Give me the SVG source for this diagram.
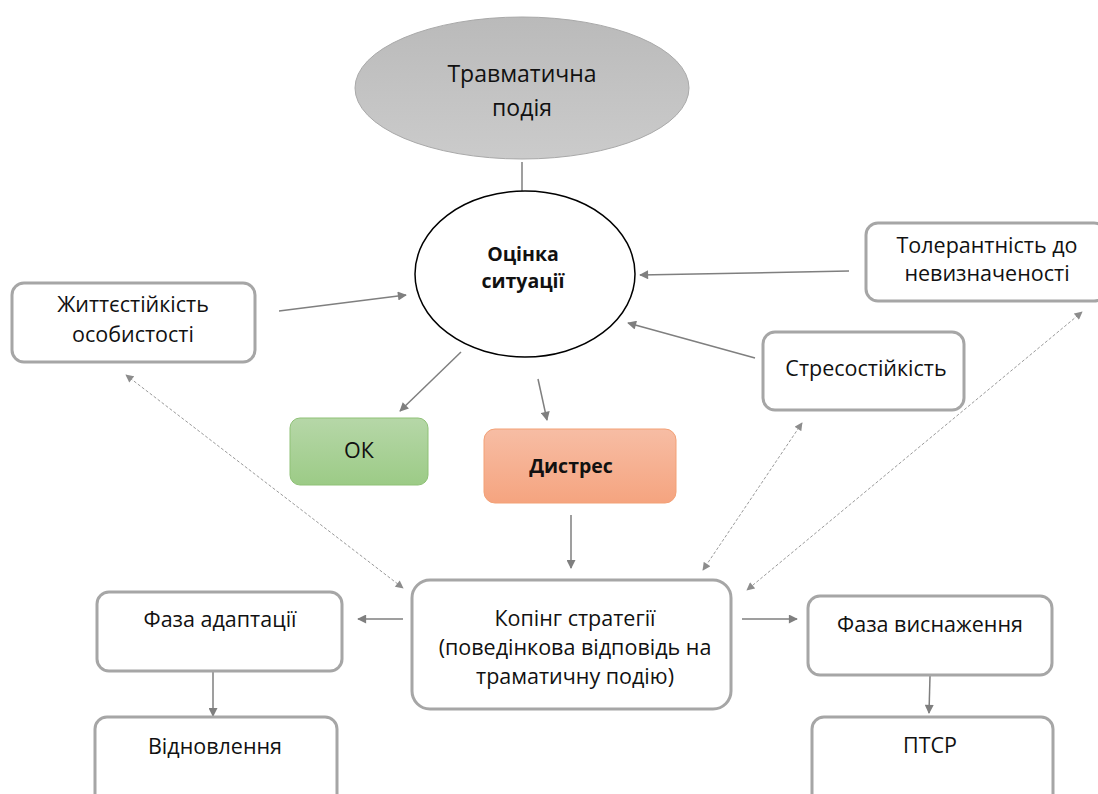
<svg xmlns="http://www.w3.org/2000/svg" width="1098" height="794" viewBox="0 0 1098 794">
<defs>
<linearGradient id="gGray" x1="0" y1="0" x2="0" y2="1"><stop offset="0" stop-color="#bababa"/><stop offset="1" stop-color="#cbcbcb"/></linearGradient>
<linearGradient id="gGreen" x1="0" y1="0" x2="0" y2="1"><stop offset="0" stop-color="#b6d7a8"/><stop offset="1" stop-color="#9ccb86"/></linearGradient>
<linearGradient id="gOrange" x1="0" y1="0" x2="0" y2="1"><stop offset="0" stop-color="#f7bda4"/><stop offset="1" stop-color="#f5a47f"/></linearGradient>
<marker id="ah" viewBox="0 0 10 10" refX="9" refY="5" markerWidth="10" markerHeight="9" markerUnits="userSpaceOnUse" orient="auto"><path d="M0,0 L10,5 L0,10 z" fill="#7f7f7f"/></marker>
<marker id="ahd" viewBox="0 0 10 10" refX="9" refY="5" markerWidth="9" markerHeight="8" markerUnits="userSpaceOnUse" orient="auto-start-reverse"><path d="M0,0 L10,5 L0,10 z" fill="#8c8c8c"/></marker>
</defs>
<style>
.t{font-family:"Open Sans","Noto Sans",sans-serif;font-size:21.5px;fill:#111;text-anchor:middle}
.b{font-weight:bold;font-size:19.5px}
.box{fill:#fff;stroke:#a6a6a6;stroke-width:3}
.ln{stroke:#7f7f7f;stroke-width:1.5;fill:none}
.dl{stroke:#9a9a9a;stroke-width:1;stroke-dasharray:3 2;fill:none}
</style>
<rect width="1098" height="794" fill="#fff"/>

<g id="connectors">
<line class="ln" x1="522" y1="162" x2="522" y2="191"/>
<line class="ln" x1="279" y1="311" x2="406" y2="295" marker-end="url(#ah)"/>
<line class="ln" x1="849" y1="271" x2="640" y2="275" marker-end="url(#ah)"/>
<line class="ln" x1="755" y1="358" x2="628" y2="323" marker-end="url(#ah)"/>
<line class="ln" x1="461" y1="352" x2="400" y2="411" marker-end="url(#ah)"/>
<line class="ln" x1="538" y1="379" x2="547" y2="420" marker-end="url(#ah)"/>
<line class="ln" x1="571" y1="515" x2="571" y2="568" marker-end="url(#ah)"/>
<line class="ln" x1="403" y1="619" x2="358" y2="619" marker-end="url(#ah)"/>
<line class="ln" x1="742" y1="619" x2="797" y2="619" marker-end="url(#ah)"/>
<line class="ln" x1="213" y1="671" x2="213" y2="716" marker-end="url(#ah)"/>
<line class="ln" x1="930" y1="676" x2="929" y2="713" marker-end="url(#ah)"/>
<line class="dl" x1="126" y1="375" x2="403" y2="588" marker-start="url(#ahd)" marker-end="url(#ahd)"/>
<line class="dl" x1="802" y1="423" x2="703" y2="570" marker-start="url(#ahd)" marker-end="url(#ahd)"/>
<line class="dl" x1="1082" y1="312" x2="747" y2="590" marker-start="url(#ahd)" marker-end="url(#ahd)"/>
</g>

<g id="travma">
<ellipse cx="522" cy="88" rx="167" ry="71" fill="url(#gGray)" stroke="#a9a9a9" stroke-width="1"/>
<text class="t" x="522" y="82" style="font-size:23px">Травматична</text>
<text class="t" x="522" y="116" style="font-size:23px">подія</text>
</g>

<g id="otsinka">
<ellipse cx="525" cy="274" rx="110" ry="83" fill="#fff" stroke="#000" stroke-width="1.5"/>
<text class="t b" x="523" y="261">Оцінка</text>
<text class="t b" x="523" y="288">ситуації</text>
</g>

<g id="zhyttiestiikist">
<rect class="box" x="12" y="283" width="243" height="79" rx="12"/>
<text class="t" x="133" y="312">Життєстійкість</text>
<text class="t" x="133" y="342">особистості</text>
</g>

<g id="tolerantnist">
<rect class="box" x="866" y="223" width="240" height="78" rx="12"/>
<text class="t" x="987" y="253">Толерантність до</text>
<text class="t" x="987" y="281">невизначеності</text>
</g>

<g id="stresostiikist">
<rect class="box" x="763" y="332" width="201" height="78" rx="12"/>
<text class="t" x="866" y="376">Стресостійкість</text>
</g>

<g id="ok">
<rect x="290" y="418" width="138" height="67" rx="10" fill="url(#gGreen)" stroke="#8fc177" stroke-width="1"/>
<text class="t" x="359" y="458">ОК</text>
</g>

<g id="distres">
<rect x="484" y="429" width="192" height="74" rx="11" fill="url(#gOrange)" stroke="#f3a176" stroke-width="1"/>
<text class="t b" x="571" y="473">Дистрес</text>
</g>

<g id="koping">
<rect class="box" x="412" y="580" width="319" height="129" rx="18"/>
<text class="t" x="575" y="626">Копінг стратегії</text>
<text class="t" x="575" y="655">(поведінкова відповідь на</text>
<text class="t" x="575" y="684">траматичну подію)</text>
</g>

<g id="adaptatsiia">
<rect class="box" x="97" y="592" width="245" height="79" rx="12"/>
<text class="t" x="220" y="627">Фаза адаптації</text>
</g>

<g id="vidnovlennia">
<rect class="box" x="95" y="717" width="242" height="100" rx="12"/>
<text class="t" x="215" y="754">Відновлення</text>
</g>

<g id="vysnazhennia">
<rect class="box" x="808" y="596" width="244" height="79" rx="12"/>
<text class="t" x="930" y="632">Фаза виснаження</text>
</g>

<g id="ptsr">
<rect class="box" x="812" y="717" width="241" height="100" rx="12"/>
<text class="t" x="930" y="753">ПТСР</text>
</g>
</svg>
